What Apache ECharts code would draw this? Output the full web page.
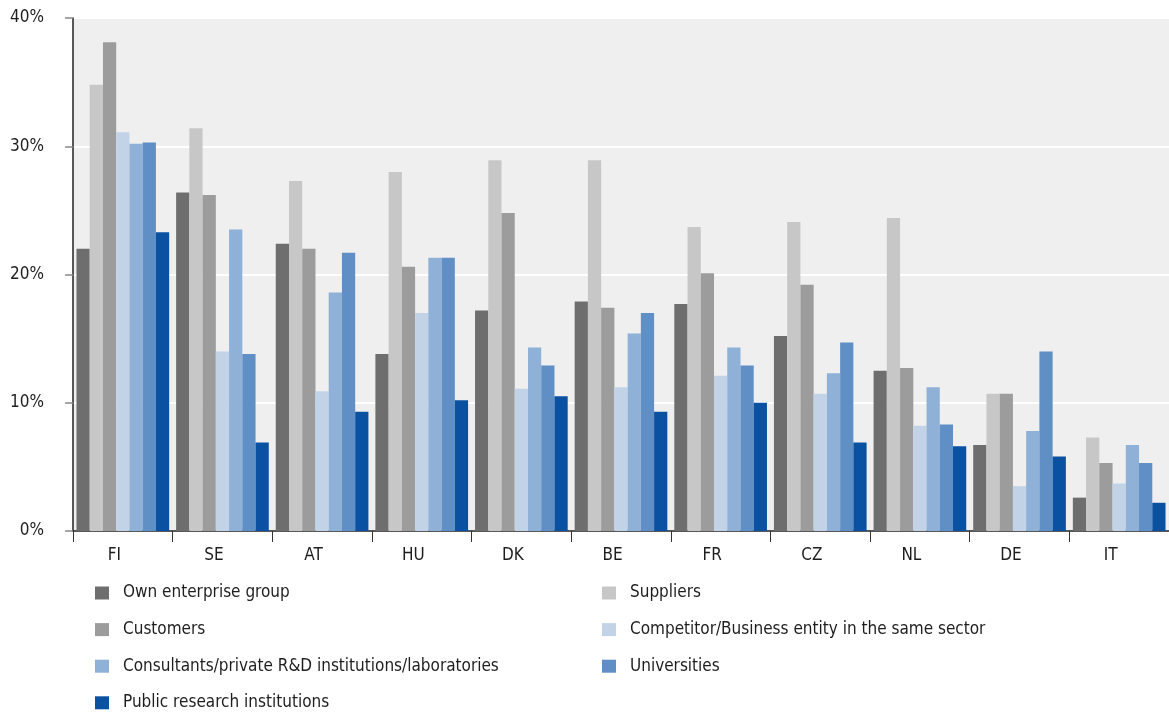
<!DOCTYPE html>
<html>
<head>
<meta charset="utf-8">
<script src="https://cdn.jsdelivr.net/npm/echarts@6/dist/echarts.min.js"></script>
<style>
  html, body { margin: 0; padding: 0; background: #ffffff; }
  #chart { width: 1169px; height: 714px; }
</style>
</head>
<body>
<div id="chart"></div>
<script>
const categories = ['FI', 'SE', 'AT', 'HU', 'DK', 'BE', 'FR', 'CZ', 'NL', 'DE', 'IT'];
const yTicks = [0, 10, 20, 30, 40];

const ownEnterpriseGroup = [22.0, 26.4, 22.4, 13.8, 17.2, 17.9, 17.7, 15.2, 12.5, 6.7, 2.6];
const suppliers          = [34.8, 31.4, 27.3, 28.0, 28.9, 28.9, 23.7, 24.1, 24.4, 10.7, 7.3];
const customers          = [38.1, 26.2, 22.0, 20.6, 24.8, 17.4, 20.1, 19.2, 12.7, 10.7, 5.3];
const competitors        = [31.1, 14.0, 10.9, 17.0, 11.1, 11.2, 12.1, 10.7, 8.2, 3.5, 3.7];
const consultants        = [30.2, 23.5, 18.6, 21.3, 14.3, 15.4, 14.3, 12.3, 11.2, 7.8, 6.7];
const universities       = [30.3, 13.8, 21.7, 21.3, 12.9, 17.0, 12.9, 14.7, 8.3, 14.0, 5.3];
const publicResearch     = [23.3, 6.9, 9.3, 10.2, 10.5, 9.3, 10.0, 6.9, 6.6, 5.8, 2.2];

const seriesNames = [
  'Own enterprise group',
  'Suppliers',
  'Customers',
  'Competitor/Business entity in the same sector',
  'Consultants/private R&D institutions/laboratories',
  'Universities',
  'Public research institutions'
];
const seriesData = [ownEnterpriseGroup, suppliers, customers, competitors, consultants, universities, publicResearch];
const colors = ['#6e6e6e', '#c6c7c6', '#9c9c9c', '#c2d3e8', '#8fb0d7', '#5f8fc4', '#0a52a1'];

const FONT = "'Liberation Sans Narrow', 'DejaVu Sans Condensed', 'Noto Sans', sans-serif";
const TEXT = '#1e1e1e';

const chart = echarts.init(document.getElementById('chart'), null, { renderer: 'canvas' });

const legendText = {
  fontFamily: FONT, fontSize: 17, color: TEXT, lineHeight: 20,
  padding: [0, 0, 0, 9]
};

chart.setOption({
  animation: false,
  backgroundColor: '#ffffff',
  color: colors,
  textStyle: { fontFamily: FONT },
  grid: {
    left: 73, top: 18, right: -4, bottom: 183,
    show: true, backgroundColor: '#efefef', borderWidth: 0,
    containLabel: false
  },
  legend: [
    {
      orient: 'vertical', left: 95, top: 583, padding: 0,
      itemWidth: 14, itemHeight: 13, itemGap: 16.6, icon: 'rect',
      data: [seriesNames[0], seriesNames[2], seriesNames[4], seriesNames[6]],
      textStyle: legendText, selectedMode: false
    },
    {
      orient: 'vertical', left: 602, top: 583, padding: 0,
      itemWidth: 14, itemHeight: 13, itemGap: 16.6, icon: 'rect',
      data: [seriesNames[1], seriesNames[3], seriesNames[5]],
      textStyle: legendText, selectedMode: false
    }
  ],
  xAxis: {
    type: 'category',
    data: categories,
    boundaryGap: true,
    axisLine: { show: true, lineStyle: { color: '#222', width: 1.5 } },
    axisTick: { show: true, length: 11, lineStyle: { color: '#333', width: 1 } },
    axisLabel: {
      fontFamily: FONT, fontSize: 17, color: TEXT, margin: 16,
      padding: [0, 17, 0, 0]
    },
    splitLine: { show: false }
  },
  yAxis: {
    type: 'value',
    min: yTicks[0], max: yTicks[yTicks.length - 1], interval: 10,
    axisLine: { show: true, lineStyle: { color: '#222', width: 1.5 } },
    axisTick: { show: true, length: 8, lineStyle: { color: '#888', width: 1.5 } },
    axisLabel: {
      fontFamily: FONT, fontSize: 17, color: TEXT, margin: 29,
      padding: [6, 0, 0, 0],
      formatter: '{value}%'
    },
    splitLine: { show: true, lineStyle: { color: '#ffffff', width: 2 } }
  },
  series: seriesNames.map((name, i) => ({
    name: name,
    type: 'bar',
    data: seriesData[i],
    barGap: '0%',
    barCategoryGap: '7%',
    itemStyle: { color: colors[i] }
  }))
});
</script>
</body>
</html>
